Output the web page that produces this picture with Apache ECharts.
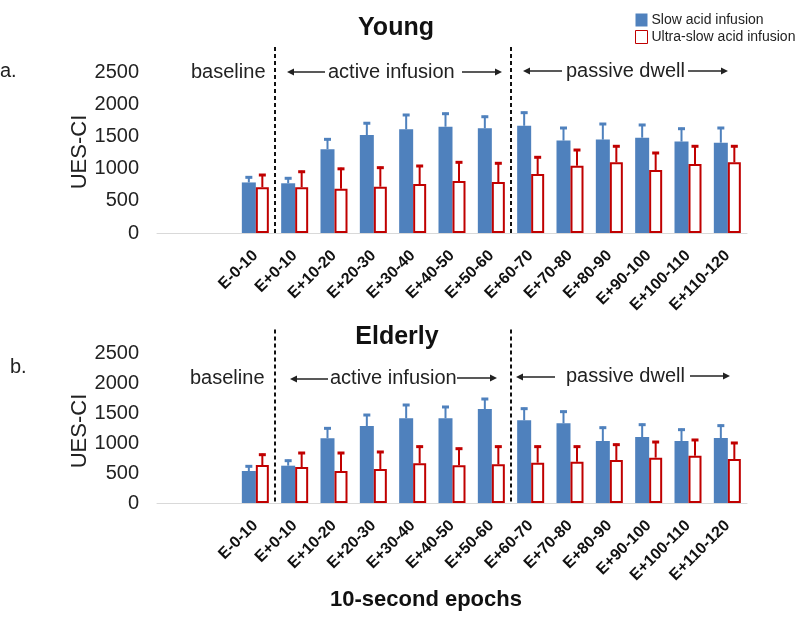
<!DOCTYPE html>
<html>
<head>
<meta charset="utf-8">
<script src="https://cdn.jsdelivr.net/npm/echarts@6/dist/echarts.min.js"></script>
<style>
html,body{margin:0;padding:0;background:#fff;}
#chart{width:800px;height:617px;}
</style>
</head>
<body>
<div id="chart"></div>
<script>
// ---- data ----
const categories = ['E-0-10','E+0-10','E+10-20','E+20-30','E+30-40','E+40-50','E+50-60','E+60-70','E+70-80','E+80-90','E+90-100','E+100-110','E+110-120'];
const padCats = ['', ''];
const yTicks = [0, 500, 1000, 1500, 2000, 2500];
const seriesNames = ['Slow acid infusion', 'Ultra-slow acid infusion'];

const youngSlow      = [785, 772, 1302, 1520, 1610, 1650, 1625, 1665, 1435, 1450, 1480, 1420, 1402];
const youngSlowErr   = [880, 865, 1470, 1720, 1848, 1868, 1821, 1884, 1646, 1708, 1693, 1635, 1646];
const youngUltra     = [712, 712, 688, 719, 761, 807, 792, 916, 1045, 1098, 978, 1071, 1098];
const youngUltraErr  = [916, 967, 1012, 1030, 1056, 1113, 1098, 1191, 1304, 1362, 1258, 1362, 1362];

const elderSlow      = [533, 622, 1078, 1283, 1411, 1411, 1567, 1378, 1328, 1033, 1100, 1033, 1083];
const elderSlowErr   = [628, 722, 1261, 1483, 1650, 1617, 1750, 1589, 1539, 1272, 1322, 1239, 1306];
const elderUltra     = [633, 600, 533, 567, 661, 628, 644, 672, 689, 717, 756, 789, 733];
const elderUltraErr  = [822, 850, 850, 867, 956, 922, 956, 956, 956, 989, 1033, 1067, 1017];

const phaseBoundaries = [2, 8]; // boundary after these x indices (incl. padding)
const dashTop = 2890;

// ---- styling ----
const FONT = 'Liberation Sans, Arial, sans-serif';
const BLUE = '#4F81BD';
const RED = '#C00000';
const BLUE_W = 14, RED_W = 13;

const chart = echarts.init(document.getElementById('chart'));

const xCats = padCats.concat(categories);
function padVals(a){ return ['-','-'].concat(a); }
function errData(vals, errs){ return vals.map((v,i)=>[i+padCats.length, v, errs[i]]); }

function errRender(offset, color){
  return function(params, api){
    const idx = api.value(0);
    const c0 = api.coord([idx, api.value(1)]);
    const c1 = api.coord([idx, api.value(2)]);
    const x = c0[0] + offset;
    return {type:'group', children:[
      {type:'line', shape:{x1:x, y1:c0[1], x2:x, y2:c1[1]}, style:{stroke:color, lineWidth:2}},
      {type:'line', shape:{x1:x-3.5, y1:c1[1]+1, x2:x+3.5, y2:c1[1]+1}, style:{stroke:color, lineWidth:3}}
    ]};
  };
}
function dashRender(params, api){
  const idx = api.value(0);
  const bw = api.size([1,0])[0];
  const b = api.coord([idx, 0]);
  const t = api.coord([idx, api.value(1)]);
  const x = b[0] + bw/2;
  return {type:'line', shape:{x1:x, y1:t[1], x2:x, y2:b[1]}, style:{stroke:'#111', lineWidth:2, lineDash:[4,3]}};
}

const grids = [
  {left:157, right:53, top:72, height:161},
  {left:157, right:53, top:353, height:150}
];

function xAxisFor(g){
  return {type:'category', gridIndex:g, data:xCats,
    axisLine:{lineStyle:{color:'#d9d9d9', width:1}}, axisTick:{show:false},
    axisLabel:{interval:0, rotate:45, margin:20, fontFamily:FONT, fontWeight:'bold', fontSize:16, color:'#111'}};
}
function yAxisFor(g){
  return {type:'value', gridIndex:g, min:yTicks[0], max:yTicks[yTicks.length-1], interval:yTicks[1]-yTicks[0],
    axisLine:{show:false}, axisTick:{show:false}, splitLine:{show:false},
    axisLabel:{margin:18, fontFamily:FONT, fontSize:20, color:'#222', formatter: v => String(v)}};
}

function seriesFor(g, slow, slowErr, ultra, ultraErr){
  return [
    {name:seriesNames[0], type:'bar', xAxisIndex:g, yAxisIndex:g, data:padVals(slow), barWidth:BLUE_W, barGap:'0%',
      itemStyle:{color:BLUE}, z:2},
    {name:seriesNames[1], type:'bar', xAxisIndex:g, yAxisIndex:g, data:padVals(ultra), barWidth:RED_W, barGap:'0%',
      itemStyle:{color:'#fff', borderColor:RED, borderWidth:2}, z:2},
    {type:'custom', xAxisIndex:g, yAxisIndex:g, data:errData(slow, slowErr), renderItem:errRender(-RED_W/2, BLUE), z:3, clip:false},
    {type:'custom', xAxisIndex:g, yAxisIndex:g, data:errData(ultra, ultraErr), renderItem:errRender(BLUE_W/2, RED), z:3, clip:false},
    {type:'custom', xAxisIndex:g, yAxisIndex:g, data:phaseBoundaries.map(b=>[b, dashTop]), renderItem:dashRender, z:4, clip:false}
  ];
}

function arrow(x1, x2, y, head){ // head: 'left' or 'right'
  const hx = head === 'left' ? x1 : x2;
  const dir = head === 'left' ? 1 : -1;
  return [
    {type:'line', shape:{x1: head==='left'? x1+5 : x1, y1:y, x2: head==='left'? x2 : x2-5, y2:y}, style:{stroke:'#222', lineWidth:1.5}},
    {type:'polygon', shape:{points:[[hx,y],[hx+dir*7,y-3.5],[hx+dir*7,y+3.5]]}, style:{fill:'#222'}}
  ];
}
function txt(x, y, s, size, opts){
  return {type:'text', x:x, y:y, style:Object.assign({text:s, fontFamily:FONT, fontSize:size, fill:'#222', textAlign:'left', textVerticalAlign:'middle'}, opts||{})};
}

const graphics = [
  txt(396, 28, 'Young', 25, {fontWeight:'bold', textAlign:'center', fill:'#111'}),
  txt(397, 337, 'Elderly', 25, {fontWeight:'bold', textAlign:'center', fill:'#111'}),
  txt(0, 71, 'a.', 20),
  txt(10, 367, 'b.', 20),
  {type:'text', x:80, y:152, rotation:Math.PI/2, style:{text:'UES-CI', fontFamily:FONT, fontSize:22, fill:'#222', textAlign:'center', textVerticalAlign:'middle'}},
  {type:'text', x:80, y:431, rotation:Math.PI/2, style:{text:'UES-CI', fontFamily:FONT, fontSize:22, fill:'#222', textAlign:'center', textVerticalAlign:'middle'}},
  txt(191, 72, 'baseline', 20),
  txt(328, 72, 'active infusion', 20),
  txt(566, 71, 'passive dwell', 20),
  txt(190, 378, 'baseline', 20),
  txt(330, 378, 'active infusion', 20),
  txt(566, 376, 'passive dwell', 20),
  txt(330, 600, '10-second epochs', 22, {fontWeight:'bold', fill:'#111'})
].concat(
  arrow(287, 325, 72, 'left'), arrow(462, 502, 72, 'right'),
  arrow(523, 562, 71, 'left'), arrow(688, 728, 71, 'right'),
  arrow(290, 328, 379, 'left'), arrow(457, 497, 378, 'right'),
  arrow(516, 555, 377, 'left'), arrow(690, 730, 376, 'right')
);

chart.setOption({
  animation:false,
  backgroundColor:'#fff',
  textStyle:{fontFamily:FONT},
  legend:{
    data:[{name:seriesNames[0]}, {name:seriesNames[1], itemStyle:{color:'#fff', borderColor:RED, borderWidth:1}}],
    orient:'vertical', left:635, top:13, itemWidth:12, itemHeight:13, itemGap:3, padding:0,
    icon:'rect', selectedMode:false,
    textStyle:{fontFamily:FONT, fontSize:14, color:'#222', padding:[0,0,0,-1]}
  },
  grid:grids,
  xAxis:[xAxisFor(0), xAxisFor(1)],
  yAxis:[yAxisFor(0), yAxisFor(1)],
  series:seriesFor(0, youngSlow, youngSlowErr, youngUltra, youngUltraErr)
    .concat(seriesFor(1, elderSlow, elderSlowErr, elderUltra, elderUltraErr)),
  graphic:graphics
});
</script>
</body>
</html>
